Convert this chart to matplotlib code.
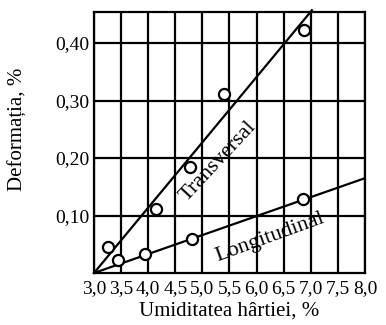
import numpy as np
import matplotlib.pyplot as plt

plt.rcParams['font.family'] = ['Liberation Serif', 'DejaVu Serif']

# puncte masurate
umid_trans = [3.26, 4.14, 4.77, 5.40, 6.88]
def_trans = [0.045, 0.111, 0.184, 0.312, 0.423]
umid_long = [3.45, 3.94, 4.80, 6.85]
def_long = [0.023, 0.033, 0.060, 0.128]

# dreptele trasate
linie_trans_x = [3.0, 7.02]
linie_trans_y = [0.0, 0.457]
linie_long_x = [3.0, 8.0]
linie_long_y = [0.0, 0.165]

x_ticks = [3.0, 3.5, 4.0, 4.5, 5.0, 5.5, 6.0, 6.5, 7.0, 7.5, 8.0]
x_labels = ['3,0', '3,5', '4,0', '4,5', '5,0', '5,5', '6,0', '6,5', '7,0', '7,5', '8,0']
y_ticks = [0.10, 0.20, 0.30, 0.40]
y_labels = ['0,10', '0,20', '0,30', '0,40']

fig = plt.figure(figsize=(3.86, 3.25), dpi=100)
ax = fig.add_axes([0.2435, 0.16, 0.7021, 0.803])

ax.plot(linie_trans_x, linie_trans_y, color='black', lw=1.6, clip_on=False, zorder=3)
ax.plot(linie_long_x, linie_long_y, color='black', lw=1.6, zorder=3)
ax.plot(umid_trans, def_trans, 'o', ms=8, mfc='white', mec='black', mew=1.6, zorder=4)
ax.plot(umid_long, def_long, 'o', ms=8, mfc='white', mec='black', mew=1.6, zorder=4)

ax.set_xlim(3.0, 8.0)
ax.set_ylim(0, 0.454)
ax.set_xticks(x_ticks)
ax.set_xticklabels(x_labels)
ax.set_yticks(y_ticks)
ax.set_yticklabels(y_labels)
ax.tick_params(length=0, labelsize=14)
ax.tick_params(axis='x', pad=5)
ax.tick_params(axis='y', pad=3)
ax.grid(True, color='black', lw=1.6)
for s in ax.spines.values():
    s.set_linewidth(1.6)

ax.text(5.3, 0.195, 'Transversal', rotation=47, fontsize=16,
        ha='center', va='center')
ax.text(6.25, 0.061, 'Longitudinal', rotation=20, fontsize=16,
        ha='center', va='center')

ax.set_xlabel('Umiditatea hârtiei, %', fontsize=15, labelpad=3)
ax.set_ylabel('Deformația, %', fontsize=15)
ax.yaxis.set_label_coords(-0.245, 0.55)

fig.savefig('out.png', dpi=100)
